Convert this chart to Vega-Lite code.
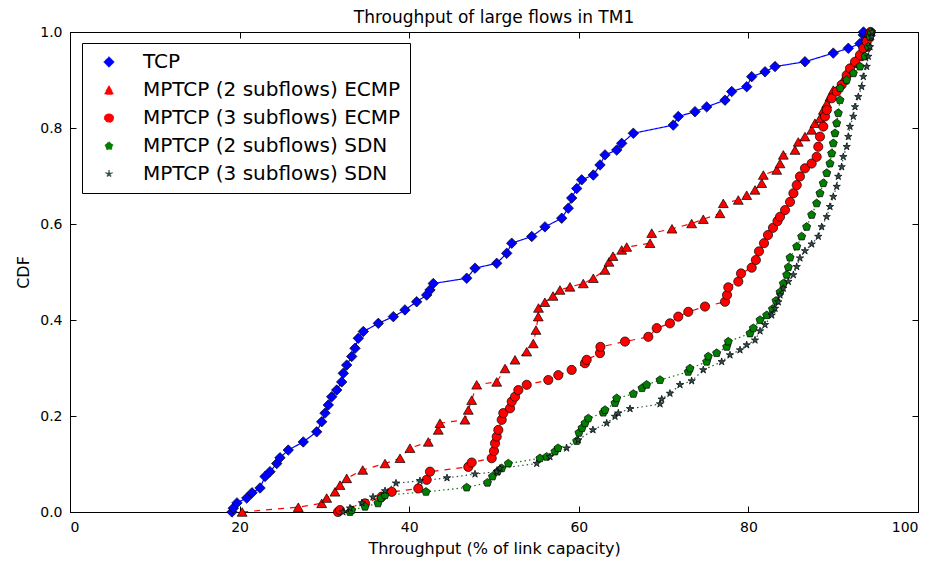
{
  "$schema": "https://vega.github.io/schema/vega-lite/v6.json",
  "width": 848,
  "height": 480,
  "autosize": "none",
  "padding": {"left": 70, "top": 32, "right": 20, "bottom": 55},
  "background": "white",
  "title": {"text": "Throughput of large flows in TM1", "fontSize": 17, "font": "DejaVu Sans", "fontWeight": "normal", "color": "black", "offset": 7, "dy": 9},
  "config": {
    "font": "DejaVu Sans",
    "view": {"stroke": "black", "strokeWidth": 1},
    "axis": {"grid": false, "domainColor": "black", "tickColor": "black", "labelColor": "black", "titleColor": "black", "labelFont": "DejaVu Sans", "titleFont": "DejaVu Sans", "titleFontWeight": "normal", "labelFontSize": 14, "titleFontSize": 16, "tickSize": -6}
  },
  "data": {"values": [
    {"series": "TCP", "x": 19.1, "y": 0.0},
    {"series": "TCP", "x": 19.26, "y": 0.008},
    {"series": "TCP", "x": 19.69, "y": 0.019},
    {"series": "TCP", "x": 20.84, "y": 0.029},
    {"series": "TCP", "x": 21.46, "y": 0.04},
    {"series": "TCP", "x": 22.41, "y": 0.05},
    {"series": "TCP", "x": 23.0, "y": 0.074},
    {"series": "TCP", "x": 23.58, "y": 0.084},
    {"series": "TCP", "x": 24.38, "y": 0.101},
    {"series": "TCP", "x": 24.76, "y": 0.113},
    {"series": "TCP", "x": 25.74, "y": 0.129},
    {"series": "TCP", "x": 27.51, "y": 0.146},
    {"series": "TCP", "x": 29.09, "y": 0.167},
    {"series": "TCP", "x": 29.68, "y": 0.188},
    {"series": "TCP", "x": 30.07, "y": 0.206},
    {"series": "TCP", "x": 30.46, "y": 0.223},
    {"series": "TCP", "x": 30.86, "y": 0.24},
    {"series": "TCP", "x": 31.45, "y": 0.254},
    {"series": "TCP", "x": 32.04, "y": 0.271},
    {"series": "TCP", "x": 32.23, "y": 0.289},
    {"series": "TCP", "x": 32.63, "y": 0.306},
    {"series": "TCP", "x": 33.22, "y": 0.324},
    {"series": "TCP", "x": 33.61, "y": 0.341},
    {"series": "TCP", "x": 34.0, "y": 0.362},
    {"series": "TCP", "x": 34.59, "y": 0.376},
    {"series": "TCP", "x": 36.36, "y": 0.393},
    {"series": "TCP", "x": 38.13, "y": 0.407},
    {"series": "TCP", "x": 39.5, "y": 0.421},
    {"series": "TCP", "x": 40.88, "y": 0.438},
    {"series": "TCP", "x": 42.06, "y": 0.452},
    {"series": "TCP", "x": 42.45, "y": 0.4625},
    {"series": "TCP", "x": 42.84, "y": 0.476},
    {"series": "TCP", "x": 46.78, "y": 0.487},
    {"series": "TCP", "x": 47.76, "y": 0.508},
    {"series": "TCP", "x": 50.32, "y": 0.518},
    {"series": "TCP", "x": 51.5, "y": 0.539},
    {"series": "TCP", "x": 52.09, "y": 0.56},
    {"series": "TCP", "x": 54.45, "y": 0.574},
    {"series": "TCP", "x": 56.01, "y": 0.594},
    {"series": "TCP", "x": 57.98, "y": 0.612},
    {"series": "TCP", "x": 58.76, "y": 0.633},
    {"series": "TCP", "x": 59.16, "y": 0.654},
    {"series": "TCP", "x": 59.75, "y": 0.674},
    {"series": "TCP", "x": 60.34, "y": 0.692},
    {"series": "TCP", "x": 61.71, "y": 0.702},
    {"series": "TCP", "x": 62.5, "y": 0.723},
    {"series": "TCP", "x": 63.09, "y": 0.744},
    {"series": "TCP", "x": 64.47, "y": 0.754},
    {"series": "TCP", "x": 65.06, "y": 0.768},
    {"series": "TCP", "x": 66.43, "y": 0.789},
    {"series": "TCP", "x": 71.14, "y": 0.806},
    {"series": "TCP", "x": 71.73, "y": 0.824},
    {"series": "TCP", "x": 73.7, "y": 0.834},
    {"series": "TCP", "x": 75.08, "y": 0.844},
    {"series": "TCP", "x": 77.24, "y": 0.858},
    {"series": "TCP", "x": 78.03, "y": 0.876},
    {"series": "TCP", "x": 79.8, "y": 0.886},
    {"series": "TCP", "x": 80.39, "y": 0.907},
    {"series": "TCP", "x": 81.96, "y": 0.917},
    {"series": "TCP", "x": 83.14, "y": 0.928},
    {"series": "TCP", "x": 86.67, "y": 0.938},
    {"series": "TCP", "x": 90.01, "y": 0.956},
    {"series": "TCP", "x": 91.78, "y": 0.966},
    {"series": "TCP", "x": 93.16, "y": 0.976},
    {"series": "TCP", "x": 93.55, "y": 0.994},
    {"series": "TCP", "x": 93.57, "y": 1.0},

    {"series": "MPTCP (2 subflows) ECMP", "x": 20.3, "y": 0.0},
    {"series": "MPTCP (2 subflows) ECMP", "x": 26.92, "y": 0.01},
    {"series": "MPTCP (2 subflows) ECMP", "x": 29.68, "y": 0.018},
    {"series": "MPTCP (2 subflows) ECMP", "x": 30.27, "y": 0.029},
    {"series": "MPTCP (2 subflows) ECMP", "x": 31.25, "y": 0.042},
    {"series": "MPTCP (2 subflows) ECMP", "x": 31.84, "y": 0.056},
    {"series": "MPTCP (2 subflows) ECMP", "x": 32.63, "y": 0.07},
    {"series": "MPTCP (2 subflows) ECMP", "x": 34.52, "y": 0.0875},
    {"series": "MPTCP (2 subflows) ECMP", "x": 37.15, "y": 0.101},
    {"series": "MPTCP (2 subflows) ECMP", "x": 38.92, "y": 0.112},
    {"series": "MPTCP (2 subflows) ECMP", "x": 40.09, "y": 0.133},
    {"series": "MPTCP (2 subflows) ECMP", "x": 42.25, "y": 0.146},
    {"series": "MPTCP (2 subflows) ECMP", "x": 43.43, "y": 0.171},
    {"series": "MPTCP (2 subflows) ECMP", "x": 43.63, "y": 0.185},
    {"series": "MPTCP (2 subflows) ECMP", "x": 46.58, "y": 0.192},
    {"series": "MPTCP (2 subflows) ECMP", "x": 46.97, "y": 0.2125},
    {"series": "MPTCP (2 subflows) ECMP", "x": 47.37, "y": 0.233},
    {"series": "MPTCP (2 subflows) ECMP", "x": 47.96, "y": 0.265},
    {"series": "MPTCP (2 subflows) ECMP", "x": 50.32, "y": 0.271},
    {"series": "MPTCP (2 subflows) ECMP", "x": 51.3, "y": 0.299},
    {"series": "MPTCP (2 subflows) ECMP", "x": 52.48, "y": 0.317},
    {"series": "MPTCP (2 subflows) ECMP", "x": 53.86, "y": 0.334},
    {"series": "MPTCP (2 subflows) ECMP", "x": 54.63, "y": 0.351},
    {"series": "MPTCP (2 subflows) ECMP", "x": 54.95, "y": 0.379},
    {"series": "MPTCP (2 subflows) ECMP", "x": 55.22, "y": 0.407},
    {"series": "MPTCP (2 subflows) ECMP", "x": 55.25, "y": 0.425},
    {"series": "MPTCP (2 subflows) ECMP", "x": 56.0, "y": 0.437},
    {"series": "MPTCP (2 subflows) ECMP", "x": 56.96, "y": 0.45},
    {"series": "MPTCP (2 subflows) ECMP", "x": 57.78, "y": 0.4625},
    {"series": "MPTCP (2 subflows) ECMP", "x": 58.96, "y": 0.469},
    {"series": "MPTCP (2 subflows) ECMP", "x": 60.53, "y": 0.476},
    {"series": "MPTCP (2 subflows) ECMP", "x": 61.71, "y": 0.487},
    {"series": "MPTCP (2 subflows) ECMP", "x": 63.09, "y": 0.504},
    {"series": "MPTCP (2 subflows) ECMP", "x": 63.56, "y": 0.521},
    {"series": "MPTCP (2 subflows) ECMP", "x": 64.03, "y": 0.533},
    {"series": "MPTCP (2 subflows) ECMP", "x": 65.06, "y": 0.546},
    {"series": "MPTCP (2 subflows) ECMP", "x": 65.65, "y": 0.552},
    {"series": "MPTCP (2 subflows) ECMP", "x": 68.4, "y": 0.56},
    {"series": "MPTCP (2 subflows) ECMP", "x": 68.6, "y": 0.581},
    {"series": "MPTCP (2 subflows) ECMP", "x": 70.99, "y": 0.59},
    {"series": "MPTCP (2 subflows) ECMP", "x": 73.31, "y": 0.601},
    {"series": "MPTCP (2 subflows) ECMP", "x": 74.68, "y": 0.61},
    {"series": "MPTCP (2 subflows) ECMP", "x": 76.65, "y": 0.622},
    {"series": "MPTCP (2 subflows) ECMP", "x": 77.04, "y": 0.643},
    {"series": "MPTCP (2 subflows) ECMP", "x": 78.81, "y": 0.65},
    {"series": "MPTCP (2 subflows) ECMP", "x": 79.8, "y": 0.66},
    {"series": "MPTCP (2 subflows) ECMP", "x": 80.78, "y": 0.671},
    {"series": "MPTCP (2 subflows) ECMP", "x": 81.57, "y": 0.685},
    {"series": "MPTCP (2 subflows) ECMP", "x": 81.76, "y": 0.702},
    {"series": "MPTCP (2 subflows) ECMP", "x": 83.34, "y": 0.7125},
    {"series": "MPTCP (2 subflows) ECMP", "x": 83.73, "y": 0.726},
    {"series": "MPTCP (2 subflows) ECMP", "x": 84.12, "y": 0.744},
    {"series": "MPTCP (2 subflows) ECMP", "x": 85.5, "y": 0.754},
    {"series": "MPTCP (2 subflows) ECMP", "x": 85.88, "y": 0.771},
    {"series": "MPTCP (2 subflows) ECMP", "x": 86.67, "y": 0.782},
    {"series": "MPTCP (2 subflows) ECMP", "x": 87.46, "y": 0.796},
    {"series": "MPTCP (2 subflows) ECMP", "x": 87.85, "y": 0.81},
    {"series": "MPTCP (2 subflows) ECMP", "x": 88.44, "y": 0.82},
    {"series": "MPTCP (2 subflows) ECMP", "x": 88.84, "y": 0.8375},
    {"series": "MPTCP (2 subflows) ECMP", "x": 89.24, "y": 0.851},
    {"series": "MPTCP (2 subflows) ECMP", "x": 89.62, "y": 0.865},
    {"series": "MPTCP (2 subflows) ECMP", "x": 90.01, "y": 0.879},
    {"series": "MPTCP (2 subflows) ECMP", "x": 91.19, "y": 0.9},
    {"series": "MPTCP (2 subflows) ECMP", "x": 91.98, "y": 0.921},
    {"series": "MPTCP (2 subflows) ECMP", "x": 92.37, "y": 0.935},
    {"series": "MPTCP (2 subflows) ECMP", "x": 92.96, "y": 0.949},
    {"series": "MPTCP (2 subflows) ECMP", "x": 93.75, "y": 0.969},
    {"series": "MPTCP (2 subflows) ECMP", "x": 94.14, "y": 0.99},
    {"series": "MPTCP (2 subflows) ECMP", "x": 94.22, "y": 1.0},

    {"series": "MPTCP (3 subflows) ECMP", "x": 31.6, "y": 0.0},
    {"series": "MPTCP (3 subflows) ECMP", "x": 31.84, "y": 0.004},
    {"series": "MPTCP (3 subflows) ECMP", "x": 34.79, "y": 0.018},
    {"series": "MPTCP (3 subflows) ECMP", "x": 36.76, "y": 0.032},
    {"series": "MPTCP (3 subflows) ECMP", "x": 37.94, "y": 0.042},
    {"series": "MPTCP (3 subflows) ECMP", "x": 41.07, "y": 0.049},
    {"series": "MPTCP (3 subflows) ECMP", "x": 42.06, "y": 0.067},
    {"series": "MPTCP (3 subflows) ECMP", "x": 42.45, "y": 0.084},
    {"series": "MPTCP (3 subflows) ECMP", "x": 46.97, "y": 0.094},
    {"series": "MPTCP (3 subflows) ECMP", "x": 47.37, "y": 0.103},
    {"series": "MPTCP (3 subflows) ECMP", "x": 49.73, "y": 0.112},
    {"series": "MPTCP (3 subflows) ECMP", "x": 50.0, "y": 0.127},
    {"series": "MPTCP (3 subflows) ECMP", "x": 50.12, "y": 0.143},
    {"series": "MPTCP (3 subflows) ECMP", "x": 50.32, "y": 0.157},
    {"series": "MPTCP (3 subflows) ECMP", "x": 50.51, "y": 0.171},
    {"series": "MPTCP (3 subflows) ECMP", "x": 50.91, "y": 0.192},
    {"series": "MPTCP (3 subflows) ECMP", "x": 51.1, "y": 0.206},
    {"series": "MPTCP (3 subflows) ECMP", "x": 51.89, "y": 0.216},
    {"series": "MPTCP (3 subflows) ECMP", "x": 52.09, "y": 0.23},
    {"series": "MPTCP (3 subflows) ECMP", "x": 52.48, "y": 0.24},
    {"series": "MPTCP (3 subflows) ECMP", "x": 52.87, "y": 0.254},
    {"series": "MPTCP (3 subflows) ECMP", "x": 53.86, "y": 0.265},
    {"series": "MPTCP (3 subflows) ECMP", "x": 56.4, "y": 0.275},
    {"series": "MPTCP (3 subflows) ECMP", "x": 57.58, "y": 0.285},
    {"series": "MPTCP (3 subflows) ECMP", "x": 59.16, "y": 0.296},
    {"series": "MPTCP (3 subflows) ECMP", "x": 60.73, "y": 0.31},
    {"series": "MPTCP (3 subflows) ECMP", "x": 60.93, "y": 0.317},
    {"series": "MPTCP (3 subflows) ECMP", "x": 62.5, "y": 0.331},
    {"series": "MPTCP (3 subflows) ECMP", "x": 62.55, "y": 0.344},
    {"series": "MPTCP (3 subflows) ECMP", "x": 65.45, "y": 0.355},
    {"series": "MPTCP (3 subflows) ECMP", "x": 68.2, "y": 0.365},
    {"series": "MPTCP (3 subflows) ECMP", "x": 69.19, "y": 0.383},
    {"series": "MPTCP (3 subflows) ECMP", "x": 70.75, "y": 0.393},
    {"series": "MPTCP (3 subflows) ECMP", "x": 71.73, "y": 0.407},
    {"series": "MPTCP (3 subflows) ECMP", "x": 72.91, "y": 0.417},
    {"series": "MPTCP (3 subflows) ECMP", "x": 74.88, "y": 0.428},
    {"series": "MPTCP (3 subflows) ECMP", "x": 77.24, "y": 0.438},
    {"series": "MPTCP (3 subflows) ECMP", "x": 77.48, "y": 0.452},
    {"series": "MPTCP (3 subflows) ECMP", "x": 77.63, "y": 0.468},
    {"series": "MPTCP (3 subflows) ECMP", "x": 78.81, "y": 0.48},
    {"series": "MPTCP (3 subflows) ECMP", "x": 79.13, "y": 0.497},
    {"series": "MPTCP (3 subflows) ECMP", "x": 80.39, "y": 0.509},
    {"series": "MPTCP (3 subflows) ECMP", "x": 80.88, "y": 0.525},
    {"series": "MPTCP (3 subflows) ECMP", "x": 81.25, "y": 0.543},
    {"series": "MPTCP (3 subflows) ECMP", "x": 81.84, "y": 0.56},
    {"series": "MPTCP (3 subflows) ECMP", "x": 82.31, "y": 0.577},
    {"series": "MPTCP (3 subflows) ECMP", "x": 82.9, "y": 0.592},
    {"series": "MPTCP (3 subflows) ECMP", "x": 83.43, "y": 0.606},
    {"series": "MPTCP (3 subflows) ECMP", "x": 83.73, "y": 0.615},
    {"series": "MPTCP (3 subflows) ECMP", "x": 84.32, "y": 0.629},
    {"series": "MPTCP (3 subflows) ECMP", "x": 84.91, "y": 0.646},
    {"series": "MPTCP (3 subflows) ECMP", "x": 85.31, "y": 0.664},
    {"series": "MPTCP (3 subflows) ECMP", "x": 85.7, "y": 0.681},
    {"series": "MPTCP (3 subflows) ECMP", "x": 86.08, "y": 0.699},
    {"series": "MPTCP (3 subflows) ECMP", "x": 86.67, "y": 0.716},
    {"series": "MPTCP (3 subflows) ECMP", "x": 87.46, "y": 0.726},
    {"series": "MPTCP (3 subflows) ECMP", "x": 88.05, "y": 0.74},
    {"series": "MPTCP (3 subflows) ECMP", "x": 88.24, "y": 0.761},
    {"series": "MPTCP (3 subflows) ECMP", "x": 88.44, "y": 0.782},
    {"series": "MPTCP (3 subflows) ECMP", "x": 88.83, "y": 0.803},
    {"series": "MPTCP (3 subflows) ECMP", "x": 89.03, "y": 0.824},
    {"series": "MPTCP (3 subflows) ECMP", "x": 89.24, "y": 0.8375},
    {"series": "MPTCP (3 subflows) ECMP", "x": 89.82, "y": 0.862},
    {"series": "MPTCP (3 subflows) ECMP", "x": 90.41, "y": 0.876},
    {"series": "MPTCP (3 subflows) ECMP", "x": 91.0, "y": 0.89},
    {"series": "MPTCP (3 subflows) ECMP", "x": 91.59, "y": 0.91},
    {"series": "MPTCP (3 subflows) ECMP", "x": 91.98, "y": 0.924},
    {"series": "MPTCP (3 subflows) ECMP", "x": 92.57, "y": 0.938},
    {"series": "MPTCP (3 subflows) ECMP", "x": 93.16, "y": 0.952},
    {"series": "MPTCP (3 subflows) ECMP", "x": 93.55, "y": 0.966},
    {"series": "MPTCP (3 subflows) ECMP", "x": 93.95, "y": 0.98},
    {"series": "MPTCP (3 subflows) ECMP", "x": 94.34, "y": 0.997},
    {"series": "MPTCP (3 subflows) ECMP", "x": 94.4, "y": 1.0},

    {"series": "MPTCP (2 subflows) SDN", "x": 33.02, "y": 0.0},
    {"series": "MPTCP (2 subflows) SDN", "x": 33.22, "y": 0.004},
    {"series": "MPTCP (2 subflows) SDN", "x": 34.79, "y": 0.011},
    {"series": "MPTCP (2 subflows) SDN", "x": 36.32, "y": 0.018},
    {"series": "MPTCP (2 subflows) SDN", "x": 36.67, "y": 0.029},
    {"series": "MPTCP (2 subflows) SDN", "x": 37.15, "y": 0.035},
    {"series": "MPTCP (2 subflows) SDN", "x": 41.98, "y": 0.042},
    {"series": "MPTCP (2 subflows) SDN", "x": 46.78, "y": 0.051},
    {"series": "MPTCP (2 subflows) SDN", "x": 49.23, "y": 0.061},
    {"series": "MPTCP (2 subflows) SDN", "x": 49.82, "y": 0.074},
    {"series": "MPTCP (2 subflows) SDN", "x": 50.41, "y": 0.084},
    {"series": "MPTCP (2 subflows) SDN", "x": 50.91, "y": 0.091},
    {"series": "MPTCP (2 subflows) SDN", "x": 51.69, "y": 0.101},
    {"series": "MPTCP (2 subflows) SDN", "x": 55.42, "y": 0.112},
    {"series": "MPTCP (2 subflows) SDN", "x": 56.21, "y": 0.115},
    {"series": "MPTCP (2 subflows) SDN", "x": 57.19, "y": 0.126},
    {"series": "MPTCP (2 subflows) SDN", "x": 57.55, "y": 0.133},
    {"series": "MPTCP (2 subflows) SDN", "x": 59.75, "y": 0.148},
    {"series": "MPTCP (2 subflows) SDN", "x": 60.02, "y": 0.165},
    {"series": "MPTCP (2 subflows) SDN", "x": 60.38, "y": 0.175},
    {"series": "MPTCP (2 subflows) SDN", "x": 60.73, "y": 0.185},
    {"series": "MPTCP (2 subflows) SDN", "x": 61.12, "y": 0.195},
    {"series": "MPTCP (2 subflows) SDN", "x": 62.89, "y": 0.207},
    {"series": "MPTCP (2 subflows) SDN", "x": 63.09, "y": 0.2125},
    {"series": "MPTCP (2 subflows) SDN", "x": 64.27, "y": 0.227},
    {"series": "MPTCP (2 subflows) SDN", "x": 64.47, "y": 0.237},
    {"series": "MPTCP (2 subflows) SDN", "x": 66.43, "y": 0.246},
    {"series": "MPTCP (2 subflows) SDN", "x": 67.45, "y": 0.258},
    {"series": "MPTCP (2 subflows) SDN", "x": 68.0, "y": 0.265},
    {"series": "MPTCP (2 subflows) SDN", "x": 69.58, "y": 0.275},
    {"series": "MPTCP (2 subflows) SDN", "x": 72.91, "y": 0.292},
    {"series": "MPTCP (2 subflows) SDN", "x": 73.11, "y": 0.299},
    {"series": "MPTCP (2 subflows) SDN", "x": 75.08, "y": 0.313},
    {"series": "MPTCP (2 subflows) SDN", "x": 75.27, "y": 0.324},
    {"series": "MPTCP (2 subflows) SDN", "x": 76.26, "y": 0.331},
    {"series": "MPTCP (2 subflows) SDN", "x": 77.44, "y": 0.344},
    {"series": "MPTCP (2 subflows) SDN", "x": 77.63, "y": 0.355},
    {"series": "MPTCP (2 subflows) SDN", "x": 80.19, "y": 0.372},
    {"series": "MPTCP (2 subflows) SDN", "x": 80.58, "y": 0.383},
    {"series": "MPTCP (2 subflows) SDN", "x": 81.37, "y": 0.4},
    {"series": "MPTCP (2 subflows) SDN", "x": 82.16, "y": 0.41},
    {"series": "MPTCP (2 subflows) SDN", "x": 82.84, "y": 0.423},
    {"series": "MPTCP (2 subflows) SDN", "x": 83.26, "y": 0.44},
    {"series": "MPTCP (2 subflows) SDN", "x": 83.73, "y": 0.458},
    {"series": "MPTCP (2 subflows) SDN", "x": 84.12, "y": 0.476},
    {"series": "MPTCP (2 subflows) SDN", "x": 84.52, "y": 0.494},
    {"series": "MPTCP (2 subflows) SDN", "x": 84.71, "y": 0.51},
    {"series": "MPTCP (2 subflows) SDN", "x": 84.91, "y": 0.53},
    {"series": "MPTCP (2 subflows) SDN", "x": 85.7, "y": 0.553},
    {"series": "MPTCP (2 subflows) SDN", "x": 86.28, "y": 0.574},
    {"series": "MPTCP (2 subflows) SDN", "x": 86.87, "y": 0.594},
    {"series": "MPTCP (2 subflows) SDN", "x": 87.46, "y": 0.619},
    {"series": "MPTCP (2 subflows) SDN", "x": 88.05, "y": 0.643},
    {"series": "MPTCP (2 subflows) SDN", "x": 88.44, "y": 0.664},
    {"series": "MPTCP (2 subflows) SDN", "x": 88.83, "y": 0.685},
    {"series": "MPTCP (2 subflows) SDN", "x": 89.24, "y": 0.706},
    {"series": "MPTCP (2 subflows) SDN", "x": 89.62, "y": 0.726},
    {"series": "MPTCP (2 subflows) SDN", "x": 89.82, "y": 0.747},
    {"series": "MPTCP (2 subflows) SDN", "x": 90.01, "y": 0.768},
    {"series": "MPTCP (2 subflows) SDN", "x": 90.21, "y": 0.789},
    {"series": "MPTCP (2 subflows) SDN", "x": 90.41, "y": 0.81},
    {"series": "MPTCP (2 subflows) SDN", "x": 90.6, "y": 0.831},
    {"series": "MPTCP (2 subflows) SDN", "x": 90.8, "y": 0.858},
    {"series": "MPTCP (2 subflows) SDN", "x": 90.82, "y": 0.883},
    {"series": "MPTCP (2 subflows) SDN", "x": 91.59, "y": 0.9},
    {"series": "MPTCP (2 subflows) SDN", "x": 92.37, "y": 0.914},
    {"series": "MPTCP (2 subflows) SDN", "x": 93.16, "y": 0.928},
    {"series": "MPTCP (2 subflows) SDN", "x": 93.75, "y": 0.949},
    {"series": "MPTCP (2 subflows) SDN", "x": 94.14, "y": 0.969},
    {"series": "MPTCP (2 subflows) SDN", "x": 94.34, "y": 0.99},
    {"series": "MPTCP (2 subflows) SDN", "x": 94.46, "y": 1.0},

    {"series": "MPTCP (3 subflows) SDN", "x": 32.19, "y": 0.0},
    {"series": "MPTCP (3 subflows) SDN", "x": 33.02, "y": 0.008},
    {"series": "MPTCP (3 subflows) SDN", "x": 34.43, "y": 0.019},
    {"series": "MPTCP (3 subflows) SDN", "x": 35.73, "y": 0.031},
    {"series": "MPTCP (3 subflows) SDN", "x": 37.15, "y": 0.044},
    {"series": "MPTCP (3 subflows) SDN", "x": 38.44, "y": 0.06},
    {"series": "MPTCP (3 subflows) SDN", "x": 41.27, "y": 0.065},
    {"series": "MPTCP (3 subflows) SDN", "x": 44.46, "y": 0.071},
    {"series": "MPTCP (3 subflows) SDN", "x": 47.76, "y": 0.079},
    {"series": "MPTCP (3 subflows) SDN", "x": 50.35, "y": 0.084},
    {"series": "MPTCP (3 subflows) SDN", "x": 50.71, "y": 0.091},
    {"series": "MPTCP (3 subflows) SDN", "x": 55.04, "y": 0.101},
    {"series": "MPTCP (3 subflows) SDN", "x": 56.6, "y": 0.115},
    {"series": "MPTCP (3 subflows) SDN", "x": 58.57, "y": 0.133},
    {"series": "MPTCP (3 subflows) SDN", "x": 59.94, "y": 0.15},
    {"series": "MPTCP (3 subflows) SDN", "x": 61.67, "y": 0.171},
    {"series": "MPTCP (3 subflows) SDN", "x": 63.29, "y": 0.185},
    {"series": "MPTCP (3 subflows) SDN", "x": 64.27, "y": 0.199},
    {"series": "MPTCP (3 subflows) SDN", "x": 64.66, "y": 0.206},
    {"series": "MPTCP (3 subflows) SDN", "x": 66.04, "y": 0.215},
    {"series": "MPTCP (3 subflows) SDN", "x": 69.58, "y": 0.225},
    {"series": "MPTCP (3 subflows) SDN", "x": 69.78, "y": 0.235},
    {"series": "MPTCP (3 subflows) SDN", "x": 70.75, "y": 0.247},
    {"series": "MPTCP (3 subflows) SDN", "x": 71.93, "y": 0.265},
    {"series": "MPTCP (3 subflows) SDN", "x": 73.31, "y": 0.273},
    {"series": "MPTCP (3 subflows) SDN", "x": 74.68, "y": 0.296},
    {"series": "MPTCP (3 subflows) SDN", "x": 76.85, "y": 0.313},
    {"series": "MPTCP (3 subflows) SDN", "x": 77.83, "y": 0.327},
    {"series": "MPTCP (3 subflows) SDN", "x": 79.01, "y": 0.3375},
    {"series": "MPTCP (3 subflows) SDN", "x": 79.8, "y": 0.348},
    {"series": "MPTCP (3 subflows) SDN", "x": 80.78, "y": 0.358},
    {"series": "MPTCP (3 subflows) SDN", "x": 81.37, "y": 0.377},
    {"series": "MPTCP (3 subflows) SDN", "x": 81.96, "y": 0.39},
    {"series": "MPTCP (3 subflows) SDN", "x": 82.75, "y": 0.41},
    {"series": "MPTCP (3 subflows) SDN", "x": 83.14, "y": 0.424},
    {"series": "MPTCP (3 subflows) SDN", "x": 83.53, "y": 0.4375},
    {"series": "MPTCP (3 subflows) SDN", "x": 83.73, "y": 0.452},
    {"series": "MPTCP (3 subflows) SDN", "x": 84.12, "y": 0.466},
    {"series": "MPTCP (3 subflows) SDN", "x": 84.71, "y": 0.48},
    {"series": "MPTCP (3 subflows) SDN", "x": 85.3, "y": 0.494},
    {"series": "MPTCP (3 subflows) SDN", "x": 85.7, "y": 0.511},
    {"series": "MPTCP (3 subflows) SDN", "x": 86.08, "y": 0.529},
    {"series": "MPTCP (3 subflows) SDN", "x": 86.67, "y": 0.544},
    {"series": "MPTCP (3 subflows) SDN", "x": 87.46, "y": 0.558},
    {"series": "MPTCP (3 subflows) SDN", "x": 88.24, "y": 0.574},
    {"series": "MPTCP (3 subflows) SDN", "x": 88.64, "y": 0.594},
    {"series": "MPTCP (3 subflows) SDN", "x": 89.23, "y": 0.615},
    {"series": "MPTCP (3 subflows) SDN", "x": 89.62, "y": 0.636},
    {"series": "MPTCP (3 subflows) SDN", "x": 90.01, "y": 0.657},
    {"series": "MPTCP (3 subflows) SDN", "x": 90.41, "y": 0.678},
    {"series": "MPTCP (3 subflows) SDN", "x": 90.6, "y": 0.699},
    {"series": "MPTCP (3 subflows) SDN", "x": 91.0, "y": 0.719},
    {"series": "MPTCP (3 subflows) SDN", "x": 91.19, "y": 0.74},
    {"series": "MPTCP (3 subflows) SDN", "x": 91.59, "y": 0.761},
    {"series": "MPTCP (3 subflows) SDN", "x": 91.78, "y": 0.782},
    {"series": "MPTCP (3 subflows) SDN", "x": 91.98, "y": 0.803},
    {"series": "MPTCP (3 subflows) SDN", "x": 92.37, "y": 0.824},
    {"series": "MPTCP (3 subflows) SDN", "x": 92.57, "y": 0.844},
    {"series": "MPTCP (3 subflows) SDN", "x": 92.96, "y": 0.865},
    {"series": "MPTCP (3 subflows) SDN", "x": 93.36, "y": 0.886},
    {"series": "MPTCP (3 subflows) SDN", "x": 93.55, "y": 0.907},
    {"series": "MPTCP (3 subflows) SDN", "x": 93.95, "y": 0.928},
    {"series": "MPTCP (3 subflows) SDN", "x": 94.14, "y": 0.949},
    {"series": "MPTCP (3 subflows) SDN", "x": 94.34, "y": 0.969},
    {"series": "MPTCP (3 subflows) SDN", "x": 94.54, "y": 0.99},
    {"series": "MPTCP (3 subflows) SDN", "x": 94.58, "y": 1.0}
  ]},
  "layer": [
    {
      "mark": {"type": "line", "strokeWidth": 1.2},
      "encoding": {
        "x": {"field": "x", "type": "quantitative", "scale": {"domain": [0, 100], "nice": false, "zero": false},
              "axis": {"orient": "bottom", "values": [0, 20, 40, 60, 80, 100], "title": "Throughput (% of link capacity)", "labelPadding": 14, "titlePadding": 6}},
        "y": {"field": "y", "type": "quantitative", "scale": {"domain": [0, 1], "nice": false},
              "axis": {"orient": "left", "values": [0, 0.2, 0.4, 0.6, 0.8, 1.0], "format": ".1f", "title": "CDF", "labelPadding": 14, "titlePadding": 8}},
        "order": {"field": "y", "type": "quantitative"},
        "color": {"field": "series", "type": "nominal",
                  "scale": {"domain": ["TCP", "MPTCP (2 subflows) ECMP", "MPTCP (3 subflows) ECMP", "MPTCP (2 subflows) SDN", "MPTCP (3 subflows) SDN"],
                            "range": ["#0000ff", "#ff0000", "#ff0000", "#008000", "#2f4f4f"]},
                  "legend": {"title": null, "orient": "none", "legendX": 12, "legendY": 11, "fillColor": "white", "strokeColor": "black", "padding": 9, "labelFontSize": 20, "labelFont": "DejaVu Sans", "labelColor": "black", "labelLimit": 400, "rowPadding": 8, "symbolSize": 100, "symbolOffset": 8, "labelOffset": 24, "symbolStrokeColor": "black", "symbolStrokeWidth": 0.8}},
        "strokeDash": {"field": "series", "type": "nominal",
                       "scale": {"domain": ["TCP", "MPTCP (2 subflows) ECMP", "MPTCP (3 subflows) ECMP", "MPTCP (2 subflows) SDN", "MPTCP (3 subflows) SDN"],
                                 "range": [[1, 0], [6, 6], [6, 6], [1.5, 3], [1.5, 3]]},
                       "legend": null}
      }
    },
    {
      "mark": {"type": "point", "filled": true, "opacity": 1, "stroke": "black", "strokeWidth": 0.7},
      "encoding": {
        "x": {"field": "x", "type": "quantitative", "axis": {"orient": "top", "labels": false, "title": null, "values": [0, 20, 40, 60, 80, 100], "labelPadding": 0, "minExtent": 0, "maxExtent": 0}},
        "y": {"field": "y", "type": "quantitative", "axis": {"orient": "right", "labels": false, "title": null, "values": [0, 0.2, 0.4, 0.6, 0.8, 1.0], "labelPadding": 0, "minExtent": 0, "maxExtent": 0}},
        "color": {"field": "series", "type": "nominal"},
        "shape": {"field": "series", "type": "nominal",
                  "scale": {"domain": ["TCP", "MPTCP (2 subflows) ECMP", "MPTCP (3 subflows) ECMP", "MPTCP (2 subflows) SDN", "MPTCP (3 subflows) SDN"],
                            "range": ["diamond", "triangle-up", "circle", "M0,-1L0.951,-0.309L0.588,0.809L-0.588,0.809L-0.951,-0.309Z", "M0,-1L0.2245,-0.309L0.951,-0.309L0.363,0.118L0.588,0.809L0,0.382L-0.588,0.809L-0.363,0.118L-0.951,-0.309L-0.2245,-0.309Z"]}},
        "size": {"field": "series", "type": "nominal", "legend": null,
                 "scale": {"domain": ["TCP", "MPTCP (2 subflows) ECMP", "MPTCP (3 subflows) ECMP", "MPTCP (2 subflows) SDN", "MPTCP (3 subflows) SDN"],
                           "range": [110, 60, 80, 70, 80]}}
      }
    }
  ],
  "resolve": {"axis": {"x": "independent", "y": "independent"}}
}
